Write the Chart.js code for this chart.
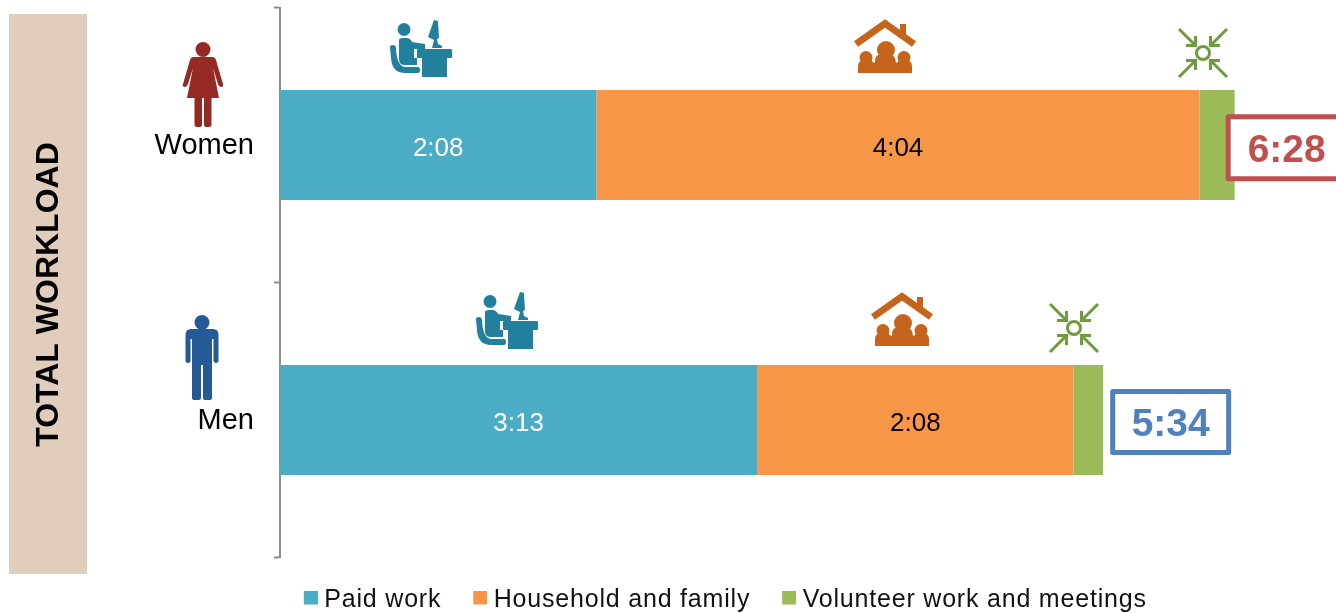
<!DOCTYPE html>
<html><head><meta charset="utf-8">
<style>
html,body{margin:0;padding:0;background:#fff;width:1336px;height:613px;overflow:hidden}
#wrap{position:absolute;left:0;top:-6px;width:1336px;height:634px}
canvas{display:block}
</style>
<script src="https://cdn.jsdelivr.net/npm/chart.js@4"></script>
</head><body>
<div id="wrap"><canvas id="c" width="1336" height="634"></canvas></div>
<script>
const categories = ['Women', 'Men'];
const paidWork = [128, 193];
const household = [244, 128];
const volunteer = [14.2, 12];
const paidLabels = ['2:08', '3:13'];
const householdLabels = ['4:04', '2:08'];
const totalLabels = ['6:28', '5:34'];
const sideTitle = 'TOTAL WORKLOAD';

const FONT = '"Liberation Sans", Arial, sans-serif';
const PAGE_SHIFT = 6;
const swatch = c => {
  const k = document.createElement('canvas'); k.width = 20; k.height = 20;
  const x = k.getContext('2d'); x.fillStyle = c; x.fillRect(6, 0, 14, 14); return k;
};

const womanPath = new Path2D('M-9,15 H9 Q12,15 13,18 L20,42 Q21,45 18,45 Q16,45 15,42 L10,26 L16,56 H8.5 V83 Q8.5,85 6,85 H3 Q1,85 1,83 V56 H-1 V83 Q-1,85 -3,85 H-6 Q-8.5,85 -8.5,83 V56 H-16 L-10,26 L-15,42 Q-16,45 -18,45 Q-21,45 -20,42 L-13,18 Q-12,15 -9,15 Z');
const manPath = new Path2D('M-11,14 H11 Q16.5,14 16.5,20 V46 Q16.5,48 14,48 Q12,48 11.5,46 V24 H10 V83 Q10,85 7,85 H3 Q1,85 1,83 V50 H-1 V83 Q-1,85 -3,85 H-7 Q-10,85 -10,83 V24 H-11.5 V46 Q-11.5,48 -14,48 Q-16.5,48 -16.5,46 V20 Q-16.5,14 -11,14 Z');
const deskPath = new Path2D('M28,29 H61 Q62,29 62,31 V37 Q62,38 61,38 H57 V57 H32 V38 H28 Q27,38 27,37 V30 Q27,29 28,29 Z M44,0 L48,1 L49,18 L47,19 L48,24 L52,26 V28 H42 L43,24 L44,20 L38,17 Z');
const sitterPath = new Path2D('M9,20 Q9,18 13,18 H17 Q20,18 22,22 L35,24 V29 L24,29 V38 H27 V45 H15 Q9,45 9,39 Z');
const chairPath = new Path2D('M0,27 Q0,25 3,25 Q6,25 6,29 Q7,46 15,47 H28 Q30,47 30,50 Q30,53 28,53 H15 Q2,53 1,38 Z');
const peoplePath = new Path2D('M-27,54 V47 Q-27,41 -20,41 L-14,41 Q-12,44 -10,44 Q-11,36 -4,35 L4,35 Q11,36 11,44 Q13,44 14,41 L20,41 Q27,41 27,47 V54 Z');

function drawDesk(ctx, x, y) {
  ctx.save(); ctx.translate(x, y); ctx.fillStyle = '#22809c';
  ctx.beginPath(); ctx.arc(14, 9.5, 6.5, 0, 7); ctx.fill();
  ctx.fill(deskPath); ctx.fill(sitterPath); ctx.fill(chairPath);
  ctx.restore();
}
function drawHouse(ctx, x, y) {
  ctx.save(); ctx.translate(x, y); ctx.fillStyle = '#c5651b'; ctx.strokeStyle = '#c5651b';
  ctx.fillRect(15, 5, 6, 13);
  ctx.lineWidth = 7; ctx.beginPath(); ctx.moveTo(-29, 25); ctx.lineTo(0, 4.5); ctx.lineTo(29, 25); ctx.stroke();
  ctx.fill(peoplePath);
  [[1, 31, 9], [-19, 38.5, 6.5], [19, 38.5, 6.5]].forEach(h => { ctx.beginPath(); ctx.arc(h[0], h[1], h[2], 0, 7); ctx.fill(); });
  ctx.restore();
}
function drawConverge(ctx, x, y) {
  ctx.save(); ctx.translate(x, y); ctx.strokeStyle = '#6f9a3e'; ctx.lineWidth = 3;
  ctx.beginPath(); ctx.arc(0, 0, 6.5, 0, 7); ctx.stroke();
  for (let i = 0; i < 4; i++) {
    ctx.beginPath(); ctx.moveTo(-24, -24); ctx.lineTo(-8, -8);
    ctx.moveTo(-7.5, -17); ctx.lineTo(-7.5, -7.5); ctx.lineTo(-17, -7.5); ctx.stroke();
    ctx.rotate(Math.PI / 2);
  }
  ctx.restore();
}
function drawFigure(ctx, path, color, x, y) {
  ctx.save(); ctx.translate(x, y); ctx.fillStyle = color;
  ctx.beginPath(); ctx.arc(0, 7.5, 7.5, 0, 7); ctx.fill(); ctx.fill(path);
  ctx.restore();
}

const decorations = {
  id: 'decorations',
  beforeLayout(chart) {
    const lg = chart.legend;
    if (lg._spaced) return;
    lg._spaced = true;
    const fit = lg.fit, draw = lg.draw, ctx = chart.ctx;
    lg.fit = function () {
      ctx.letterSpacing = '0.8px';
      fit.call(this);
      ctx.letterSpacing = '0px';
    };
    lg.draw = function () {
      ctx.save();
      ctx.letterSpacing = '0.8px';
      ctx.translate(0, -1.5);
      draw.call(this);
      ctx.restore();
      ctx.letterSpacing = '0px';
    };
  },
  beforeDraw(chart) {
    const ctx = chart.ctx;
    ctx.save();
    ctx.translate(0, PAGE_SHIFT);
    ctx.fillStyle = '#e0cdbb';
    ctx.fillRect(9, 14, 78, 560);
    ctx.fillStyle = '#000';
    ctx.font = 'bold 32px ' + FONT;
    ctx.textAlign = 'center'; ctx.textBaseline = 'middle';
    ctx.translate(49, 294.5); ctx.rotate(-Math.PI / 2);
    ctx.fillText(sideTitle, 0, 0);
    ctx.restore();
  },
  afterDatasetsDraw(chart) {
    const ctx = chart.ctx;
    const paid = chart.getDatasetMeta(0).data;
    const home = chart.getDatasetMeta(1).data;
    const vol = chart.getDatasetMeta(2).data;
    ctx.save();
    ctx.textAlign = 'center'; ctx.textBaseline = 'middle';
    ctx.font = '26px ' + FONT;
    categories.forEach((c, i) => {
      ctx.fillStyle = '#fff';
      ctx.fillText(paidLabels[i], (paid[i].base + paid[i].x) / 2, paid[i].y + 3.5);
      ctx.fillStyle = '#000';
      ctx.fillText(householdLabels[i], (home[i].base + home[i].x) / 2, home[i].y + 3.5);
    });
    const boxStyle = [{ c: '#c0504d', dx: -9, dy: 2.7, w: 122, h: 67 }, { c: '#4f81bd', dx: 7, dy: 2, w: 121, h: 66 }];
    categories.forEach((c, i) => {
      const s = boxStyle[i];
      const x = vol[i].x + s.dx, y = vol[i].y + s.dy;
      ctx.fillStyle = '#fff'; ctx.strokeStyle = s.c; ctx.lineWidth = 5; ctx.lineJoin = 'round';
      ctx.beginPath(); ctx.rect(x + 2.5, y - s.h / 2 + 2.5, s.w - 5, s.h - 5); ctx.fill(); ctx.stroke();
      ctx.fillStyle = s.c; ctx.font = 'bold 39px ' + FONT;
      ctx.fillText(totalLabels[i], x + s.w / 2, y + 3.5);
    });
    ctx.restore();
    ctx.save();
    ctx.translate(0, PAGE_SHIFT);
    ctx.filter = 'blur(0.5px)';
    drawFigure(ctx, womanPath, '#952a25', 203, 42);
    drawFigure(ctx, manPath, '#255a96', 202, 315);
    drawDesk(ctx, 390, 20); drawDesk(ctx, 476, 292);
    drawHouse(ctx, 885, 19); drawHouse(ctx, 902, 292);
    drawConverge(ctx, 1203, 53); drawConverge(ctx, 1074, 328);
    ctx.restore();
  }
};

new Chart(document.getElementById('c'), {
  type: 'bar',
  data: {
    labels: categories,
    datasets: [
      { label: 'Paid work', data: paidWork, backgroundColor: '#4bacc6' },
      { label: 'Household and family', data: household, backgroundColor: '#f79646' },
      { label: 'Volunteer work and meetings', data: volunteer, backgroundColor: '#9bbb59' }
    ]
  },
  options: {
    indexAxis: 'y',
    responsive: false,
    animation: false,
    events: [],
    layout: { autoPadding: false, padding: { left: 133.5, right: 19, top: 13.5, bottom: 3.5 } },
    datasets: { bar: { barPercentage: 0.4, categoryPercentage: 1 } },
    scales: {
      x: { stacked: true, display: false, min: 0, max: 419.5 },
      y: {
        stacked: true,
        afterFit(s) { s.width = 146.5; s.paddingTop = 0; s.paddingBottom = 0; },
        border: { color: '#8c8c8c', width: 2 },
        grid: { offset: true, drawOnChartArea: false, drawTicks: true, tickLength: 6, tickWidth: 2, tickColor: '#8c8c8c', color: '#8c8c8c' },
        ticks: { color: '#000', padding: 20, labelOffset: 1, font: { family: FONT, size: 29 } }
      }
    },
    plugins: {
      tooltip: { enabled: false },
      legend: {
        position: 'bottom',
        labels: {
          usePointStyle: true,
          pointStyleWidth: 8,
          padding: 32,
          color: '#111',
          font: { family: FONT, size: 25 },
          generateLabels(chart) {
            return Chart.defaults.plugins.legend.labels.generateLabels(chart).map(it => {
              it.pointStyle = swatch(it.fillStyle);
              return it;
            });
          }
        }
      }
    }
  },
  plugins: [decorations]
});
</script>
</body></html>
